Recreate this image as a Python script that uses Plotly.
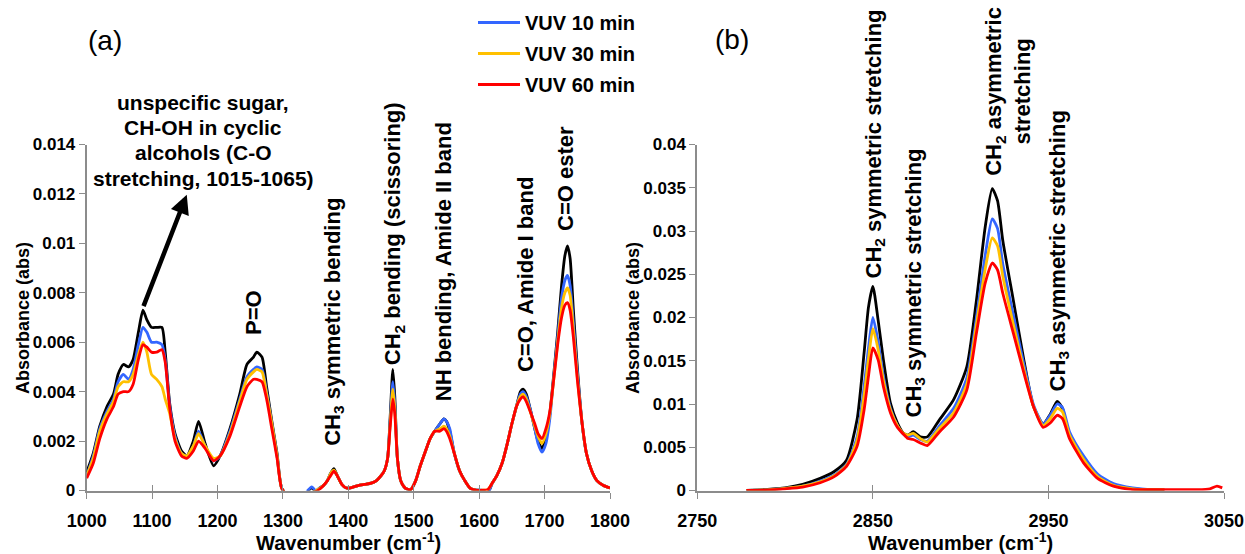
import plotly.graph_objects as go

# ---------------- Fingerprint region (1000-1800 cm-1) ----------------
wn_fp = [1000, 1010, 1020, 1031, 1041, 1048, 1056, 1064, 1071, 1079,
         1086, 1092, 1099, 1107, 1115, 1120, 1127, 1135, 1145, 1153,
         1163, 1171, 1181, 1194, 1204, 1219, 1234, 1245, 1255, 1260,
         1268, 1275, 1283, 1291, 1298, 1310, 1320, 1330, 1338, 1344,
         1350, 1356, 1362, 1368, 1373, 1378, 1383, 1390, 1397, 1405,
         1415, 1425, 1435, 1443, 1450, 1455, 1460, 1464, 1468, 1471,
         1475, 1480, 1487, 1495, 1503, 1510, 1518, 1525, 1532, 1540,
         1546, 1550, 1555, 1562, 1570, 1578, 1586, 1595, 1605, 1613,
         1620, 1627, 1635, 1643, 1650, 1657, 1663, 1667, 1672, 1678,
         1685, 1690, 1696, 1702, 1708, 1714, 1720, 1726, 1731, 1735,
         1739, 1744, 1750, 1757, 1764, 1772, 1780, 1790, 1800]

control_fp = [.00074, .0015, .0026, .0034, .0039, .0047, .0051, .0050, .0053, .0064,
              .0073, .0069, .0066, .0066, .0066, .0056, .0035, .0023, .0016, .0014,
              .0020, .0028, .0019, .0010, .0014, .0025, .0039, .0051, .0054, .0056,
              .0054, .0042, .0028, .0015, .0001, -.0003, -.0004, -.0003, -.00005, .00012,
              -.00005, .0001, .0002, .0004, .0007, .00088, .0006, .00025, .0001, .00012,
              .0002, .00025, .0003, .0004, .0006, .0008, .0013, .0030, .0049, .0038,
              .0013, .0004, .0001, .00003, .0004, .0010, .0016, .0021, .0024, .0027,
              .0029, .0028, .0024, .0015, .0008, .0004, .0001, .00002, .00001, -.0001,
              .0003, .0006, .0011, .0019, .0027, .0034, .0040, .0041, .0039, .0033,
              .0025, .0020, .0017, .0021, .0031, .0047, .0064, .0083, .0095, .0099,
              .0094, .0073, .0050, .0028, .0015, .0008, .0004, .0002, .0001]

vuv10_fp = [.0006, .0014, .0025, .0032, .0037, .0044, .0047, .0045, .0049, .0059,
            .0066, .0064, .0060, .0060, .0059, .0053, .0034, .0022, .0015, .0014,
            .0018, .0024, .0018, .0012, .0014, .0024, .0037, .0046, .0049, .0050,
            .0049, .0040, .0027, .0014, .0001, -.0003, -.0004, -.0003, .0, .00015,
            .0, .0001, .0002, .0004, .0007, .0008, .0006, .00025, .0001, .00012,
            .0002, .00025, .0003, .0004, .0006, .0008, .0013, .0028, .0044, .0035,
            .0013, .0004, .0001, .00003, .0004, .0010, .0016, .0021, .0024, .0027,
            .0029, .0028, .0025, .0015, .0008, .0004, .0001, .00002, .00001, -.0001,
            .0003, .0006, .0011, .0019, .0027, .0034, .0039, .0040, .0038, .0033,
            .0025, .0019, .00155, .0019, .0029, .0046, .0062, .0078, .0085, .0087,
            .0083, .0068, .0048, .0028, .0015, .0008, .0004, .0002, .0001]

vuv30_fp = [.0006, .0013, .0024, .0031, .0036, .0042, .0044, .0044, .0047, .0055,
            .0060, .0056, .0047, .0045, .0042, .0037, .0031, .0021, .0015, .0014,
            .0018, .0023, .0018, .0013, .0014, .0023, .0036, .0045, .0048, .0049,
            .0048, .0039, .0027, .0014, .0001, -.0003, -.0004, -.0003, -.0002, -.0001,
            -.00002, .00008, .0002, .0004, .0007, .00082, .0006, .00025, .0001, .00012,
            .0002, .00025, .0003, .0004, .0006, .0008, .0013, .0027, .0041, .0033,
            .0013, .0004, .0001, .00003, .0004, .0010, .0016, .0021, .0024, .0025,
            .0026, .0025, .0022, .0015, .0008, .0004, .0001, .00002, .00001, .00003,
            .0003, .0006, .0011, .0019, .0027, .0034, .0038, .0039, .0037, .0032,
            .0026, .0022, .0019, .0023, .0031, .0045, .0060, .0074, .0080, .0082,
            .0079, .0065, .0046, .0028, .0015, .0008, .0004, .0002, .0001]

vuv60_fp = [.0005, .0011, .0021, .0029, .0034, .0039, .0040, .0040, .0043, .0053,
            .0059, .0058, .0056, .0056, .0057, .0052, .0033, .0020, .0014, .0013,
            .0016, .0020, .0017, .0012, .0014, .0022, .0034, .0042, .0045, .0045,
            .0044, .0037, .0025, .0013, .0001, -.0003, -.0004, -.0003, -.0002, -.0001,
            -.00005, .00005, .0002, .0004, .0006, .00078, .0006, .00025, .0001, .00012,
            .0002, .00025, .0003, .0004, .0006, .0008, .0013, .0026, .0037, .0031,
            .0013, .0004, .0001, .00003, .0004, .0010, .0016, .0021, .0024, .0024,
            .0025, .0024, .0021, .0015, .0008, .0004, .0001, .00002, .00001, .00003,
            .0003, .0006, .0011, .0019, .0027, .0034, .0037, .0038, .0036, .0032,
            .0027, .0023, .0021, .0025, .0032, .0045, .0059, .0070, .0075, .0076,
            .0073, .0062, .0045, .0028, .0015, .0008, .0004, .0002, .0001]

# ---------------- CH stretching region (2750-3050 cm-1) ----------------
wn_ch = [2778, 2790, 2800, 2810, 2820, 2828, 2835, 2841, 2845, 2847.5,
         2850, 2853, 2856, 2860, 2864, 2867.5, 2870, 2873, 2877, 2881,
         2888, 2896, 2903.5, 2909, 2914, 2918, 2921, 2924, 2930, 2936,
         2941.5, 2947, 2951, 2955, 2958, 2962, 2970, 2978, 2987, 2998,
         3008, 3016, 3025, 3035, 3042, 3046, 3049]

control_ch = [0.0, .00012, .0003, .0007, .0014, .0022, .0035, .0082, .0159, .0212,
              .0236, .0197, .0151, .0101, .0078, .0066, .0064, .0068, .0062, .0062,
              .0082, .0105, .0143, .0220, .0305, .0349, .0335, .0289, .0220, .0151,
              .0097, .0077, .0088, .0103, .0095, .0062, .0035, .0016, .0006, .0002,
              .0001, .00005, None, None, None, None, None]

vuv10_ch = [0.0, .00008, .00025, .0005, .0011, .0018, .0030, .0062, .0120, .0165,
            .0200, .0172, .0132, .0095, .0075, .0065, .0062, .0064, .0059, .0057,
            .0075, .0095, .0130, .0200, .0272, .0314, .0303, .0262, .0203, .0146,
            .0099, .0077, .0087, .0100, .0096, .0068, .0040, .0019, .0008, .0003,
            .0001, .0001, None, None, None, None, None]

vuv30_ch = [0.0, .00008, .00025, .0005, .0010, .0017, .0029, .0058, .0110, .0152,
            .0187, .0163, .0127, .0093, .0075, .0066, .0064, .0066, .0060, .0056,
            .0072, .0090, .0123, .0192, .0256, .0292, .0283, .0248, .0192, .0140,
            .0097, .0075, .0083, .0095, .0091, .0064, .0036, .0016, .0006, .0002,
            .0001, .0001, None, None, None, None, None]

vuv60_ch = [0.0, .00005, .0002, .0004, .0009, .0016, .0028, .0051, .0093, .0132,
            .0165, .0151, .0120, .0090, .0073, .0065, .0060, .0059, .0055, .0052,
            .0068, .0085, .0116, .0182, .0240, .0263, .0255, .0228, .0182, .0136,
            .0097, .0073, .0078, .0087, .0083, .0060, .0032, .0014, .0005, .0001,
            .0001, .0001, .0001, .0001, .0002, .0005, .0003]

series_names = ["Control", "VUV 10 min", "VUV 30 min", "VUV 60 min"]
series_colors = ["#000000", "#3366FF", "#FFC000", "#FF0000"]

FONT = "Liberation Sans, Arial, sans-serif"
AXIS_GREY = "#8C8C8C"
W, H = 1245, 554


def px_x(p):
    return p / W


def px_y(p):
    return 1 - p / H


fig = go.Figure()

fp_sets = [control_fp, vuv10_fp, vuv30_fp, vuv60_fp]
ch_sets = [control_ch, vuv10_ch, vuv30_ch, vuv60_ch]
for i, (name, color) in enumerate(zip(series_names, series_colors)):
    fig.add_trace(go.Scatter(
        x=wn_fp, y=fp_sets[i], mode="lines", name=name,
        line=dict(color=color, width=2.8, shape="spline", smoothing=0.6),
        xaxis="x", yaxis="y", legendgroup=name, showlegend=(i > 0)))
for i, (name, color) in enumerate(zip(series_names, series_colors)):
    fig.add_trace(go.Scatter(
        x=wn_ch, y=ch_sets[i], mode="lines", name=name,
        line=dict(color=color, width=2.8, shape="spline", smoothing=0.6),
        xaxis="x2", yaxis="y2", legendgroup=name, showlegend=False))

# empty traces that carry the inner tick marks of the x axes
fig.add_trace(go.Scatter(x=[], y=[], xaxis="x3", yaxis="y", showlegend=False, hoverinfo="skip"))
fig.add_trace(go.Scatter(x=[], y=[], xaxis="x4", yaxis="y2", showlegend=False, hoverinfo="skip"))

dom_a = [86.7 / W, 610 / W]
dom_b = [697.3 / W, 1224 / W]
dom_y = [1 - 490.5 / H, 1 - 144.5 / H]

tick_x = dict(family=FONT, size=18, color="black", weight="bold")
tick_y = dict(family=FONT, size=17, color="black", weight="bold")

common_x = dict(showline=True, linecolor=AXIS_GREY, linewidth=2, ticks="outside",
                ticklen=6, tickcolor=AXIS_GREY, tickwidth=1.2, showgrid=False,
                zeroline=False, tickfont=tick_x, layer="below traces", automargin=False,
                ticklabelstandoff=7)
common_y = dict(showline=True, linecolor=AXIS_GREY, linewidth=2, ticks="outside",
                ticklen=6, tickcolor=AXIS_GREY, tickwidth=1.2, showgrid=False,
                zeroline=False, tickfont=tick_y, layer="below traces", automargin=False)
inner_x = dict(showline=False, ticks="inside", ticklen=6, tickcolor=AXIS_GREY,
               tickwidth=1.2, showticklabels=False, showgrid=False, zeroline=False,
               automargin=False)

fig.update_layout(
    width=W, height=H,
    margin=dict(l=0, r=0, t=0, b=0),
    paper_bgcolor="white", plot_bgcolor="white",
    font=dict(family=FONT, color="black"),
    template="none",
    xaxis=dict(domain=dom_a, anchor="y", range=[1000, 1800], tick0=1000, dtick=100, **common_x),
    yaxis=dict(domain=dom_y, anchor="x", range=[0, 0.014], tick0=0, dtick=0.002, **common_y),
    xaxis2=dict(domain=dom_b, anchor="y2", range=[2750, 3050], tick0=2750, dtick=100, **common_x),
    yaxis2=dict(domain=dom_y, anchor="x2", range=[0, 0.04], tick0=0, dtick=0.005, **common_y),
    xaxis3=dict(overlaying="x", matches="x", anchor="y", tick0=1000, dtick=100, **inner_x),
    xaxis4=dict(overlaying="x2", matches="x2", anchor="y2", tick0=2750, dtick=100, **inner_x),
    showlegend=True,
    legend=dict(x=px_x(473), y=px_y(3), xanchor="left", yanchor="top",
                font=dict(family=FONT, size=20, color="black", weight="bold"),
                bgcolor="rgba(0,0,0,0)", borderwidth=0, tracegroupgap=2,
                itemwidth=42),
)

ann = []


def text_px(txt, x, y, size, angle=0, bold=True, xanchor="center", yanchor="middle"):
    ann.append(dict(text=f"<b>{txt}</b>" if bold else txt, x=px_x(x), y=px_y(y),
                    xref="paper", yref="paper", showarrow=False, textangle=angle,
                    font=dict(family=FONT, size=size, color="black"),
                    xanchor=xanchor, yanchor=yanchor))


# panel letters
text_px("(a)", 105, 40, 28, bold=False)
text_px("(b)", 732, 39, 28, bold=False)

# axis titles
text_px("Absorbance (abs)", 23, 318, 18, angle=-90)
text_px("Absorbance (abs)", 633, 318, 18, angle=-90)
text_px("Wavenumber (cm<sup>-1</sup>)", 348, 541, 20)
text_px("Wavenumber (cm<sup>-1</sup>)", 960.6, 541, 20)

# sugar annotation block
for line, yy in zip(["unspecific sugar,", "CH-OH in cyclic", "alcohols (C-O",
                     "stretching, 1015-1065)"], [103, 128, 153, 179]):
    text_px(line, 203, yy, 21)

# arrow pointing from the 1085 cm-1 peak to the annotation block
ann.append(dict(x=1153, y=0.01197, xref="x", yref="y", ax=1086, ay=0.0074,
                axref="x", ayref="y", text="", showarrow=True, arrowhead=2,
                arrowsize=0.85, arrowwidth=4.5, arrowcolor="black", standoff=0))

# rotated band labels (data coordinates: x at band, y at label bottom)
band_labels_a = [
    ("P=O", 1256, 0.0062),
    ("CH<sub>3</sub> symmetric bending", 1377, 0.00174),
    ("CH<sub>2</sub> bending (scissoring)", 1471, 0.0050),
    ("NH bending, Amide II band", 1545, 0.00352),
    ("C=O, Amide I band", 1670, 0.00473),
    ("C=O ester", 1733, 0.01041),
]
for txt, xx, yy in band_labels_a:
    ann.append(dict(text=f"<b>{txt}</b>", x=xx, y=yy, xref="x", yref="y",
                    showarrow=False, textangle=-90, xanchor="center", yanchor="bottom",
                    font=dict(family=FONT, size=22, color="black")))

band_labels_b = [
    ("CH<sub>2</sub> symmetric stretching", 2851, 0.0243),
    ("CH<sub>3</sub> symmetric stretching", 2874, 0.00816),
    ("CH<sub>2</sub> asymmetric<br>stretching", 2927, 0.0361),
    ("CH<sub>3</sub> asymmetric stretching", 2956, 0.01128),
]
for txt, xx, yy in band_labels_b:
    ann.append(dict(text=f"<b>{txt}</b>", x=xx, y=yy, xref="x2", yref="y2",
                    showarrow=False, textangle=-90, xanchor="center", yanchor="bottom",
                    font=dict(family=FONT, size=22, color="black")))

fig.update_layout(annotations=ann)

fig.write_html("out.html")
